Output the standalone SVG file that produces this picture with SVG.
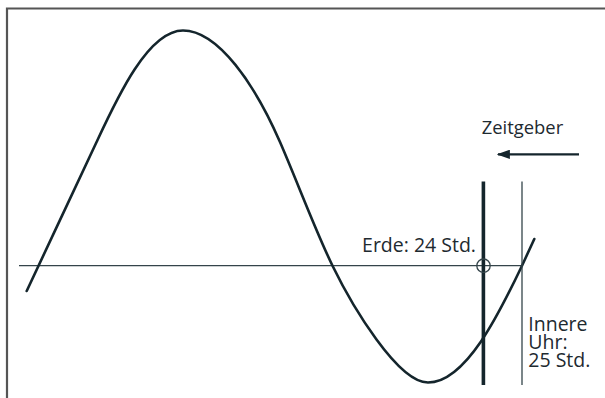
<svg xmlns="http://www.w3.org/2000/svg" width="605" height="398" viewBox="0 0 605 398">
<style>
.lbl{font-family:"Open Sans","DejaVu Sans",sans-serif;fill:#1e2a30}
.thin{stroke:#34444a;stroke-width:1.3;fill:none}
.curve{stroke:#14252c;stroke-width:2.6;fill:none;stroke-linecap:round}
</style>
<defs>
<marker id="ah" viewBox="0 0 10 10" refX="9" refY="5" markerWidth="6" markerHeight="4.2" markerUnits="strokeWidth" orient="auto" preserveAspectRatio="none">
<path d="M0,0 L10,5 L0,10 Z" fill="#14252c"/>
</marker>
</defs>
<rect width="605" height="398" fill="#ffffff"/>
<path d="M7,398 V8.5 H605" fill="none" stroke="#555555" stroke-width="2.2"/>
<g id="connectors">
<line class="thin" x1="19" y1="265.7" x2="522" y2="265.7"/>
<path class="curve" d="M26.7,291 C50,240.9 73.4,191.8 96.7,141.7 C116.7,98.7 148,30.5 183,30.5 C218,30.5 255,84.5 280,142 C297,181.1 315.5,230.85 332.5,265.7 C352.5,306.7 398,382.5 428,382.5 C466,382.5 500,311.9 522,265.7 L534.3,239"/>
<line x1="483.4" y1="181.5" x2="483.4" y2="385" stroke="#14252c" stroke-width="3.6"/>
<line class="thin" x1="522" y1="181.5" x2="522" y2="385"/>
<circle class="thin" cx="483.5" cy="265.7" r="6.7"/>
<line x1="579" y1="154.3" x2="498" y2="154.3" stroke="#14252c" stroke-width="2.2" marker-end="url(#ah)"/>
</g>
<g id="zeitgeber"><text class="lbl" x="481.7" y="134" font-size="18.4">Zeitgeber</text></g>
<g id="erde"><text class="lbl" x="476" y="252" font-size="19.5" text-anchor="end">Erde: 24 Std.</text></g>
<g id="innere-uhr">
<text class="lbl" x="528.3" y="331" font-size="19.5">Innere</text>
<text class="lbl" x="528.3" y="349" font-size="19.5">Uhr:</text>
<text class="lbl" x="528.3" y="367" font-size="19.5">25 Std.</text>
</g>
</svg>
